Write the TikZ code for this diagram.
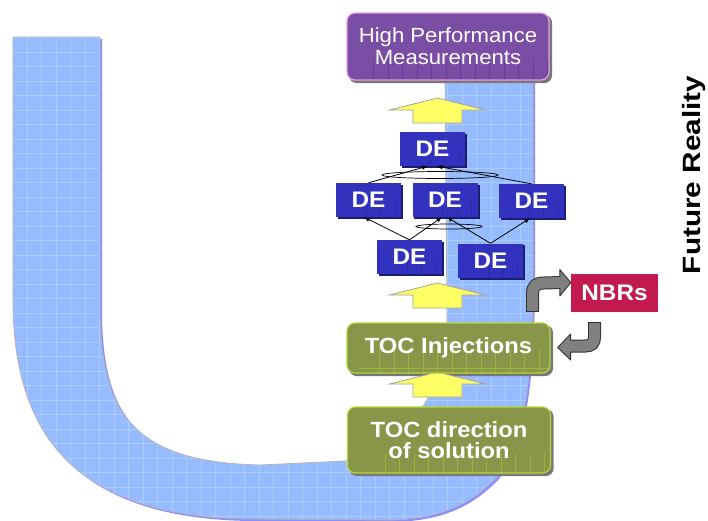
\documentclass[tikz,border=0pt]{standalone}
\usepackage{fontspec}
\setmainfont[FakeStretch=1.08]{Liberation Sans}
\usetikzlibrary{arrows.meta,shapes.geometric,calc}

\definecolor{ublue}{RGB}{151,187,255}
\definecolor{ugrid}{RGB}{170,205,255}
\definecolor{ushadow}{RGB}{140,140,250}
\definecolor{uedge}{RGB}{178,178,188}
\definecolor{hpmfill}{RGB}{122,78,164}
\definecolor{hpmgrid}{RGB}{106,56,160}
\definecolor{hpmedge}{RGB}{232,160,228}
\definecolor{deblue}{RGB}{50,50,190}
\definecolor{degrid}{RGB}{42,42,172}
\definecolor{deshade}{RGB}{28,28,112}
\definecolor{tocfill}{RGB}{135,150,72}
\definecolor{tocgrid}{RGB}{158,178,62}
\definecolor{tocedge}{RGB}{182,212,60}
\definecolor{nbrfill}{RGB}{194,26,78}
\definecolor{upfill}{RGB}{255,255,102}
\definecolor{upedge}{RGB}{160,160,160}
\definecolor{curvefill}{RGB}{128,128,128}
\definecolor{curveedge}{RGB}{50,50,50}
\definecolor{boxshade}{RGB}{120,120,120}

\pgfdeclarelayer{band}
\pgfdeclarelayer{shade}
\pgfsetlayers{band,shade,main}

% outline of the blue U band (pixel-like units, y pointing down)
\def\ushapepath{(13,37) -- (100,37) -- (100,315)
  .. controls (102,420) and (140,462) .. (260,465) -- (345,461)
  .. controls (420,440) and (446,380) .. (447,320) -- (445,70) -- (533,70)
  -- (533,270) .. controls (533,380) and (525,440) .. (497,477)
  .. controls (470,505) and (440,519) .. (390,520) -- (250,519)
  .. controls (80,517) and (13,440) .. (13,300) -- cycle}

\tikzset{
  boxgrid/.style={path picture={
    \begin{scope}[shift={(path picture bounding box.north west)}]
      \foreach \k in {1,...,15} {\draw[#1, line width=0.5pt] (14.5*\k,-5) -- (14.5*\k,90);}
      \foreach \k in {1,...,5} {\draw[#1, line width=0.5pt] (-5,14.5*\k) -- (240,14.5*\k);}
    \end{scope}}},
  hpmbox/.style={draw=hpmedge, line width=1.2pt, fill=hpmfill, rounded corners=8pt,
    text=white, align=center, minimum width=202pt, minimum height=67pt,
    font=\fontsize{20.5}{22}\selectfont, boxgrid=hpmgrid},
  debox/.style={fill=deblue, text=white, minimum width=65pt, minimum height=34pt,
    inner sep=0pt, font=\fontsize{22.5}{24}\selectfont\bfseries, boxgrid=degrid},
  tocbox/.style={draw=tocedge, line width=1.2pt, fill=tocfill, rounded corners=8pt,
    text=white, align=center, minimum width=203pt, inner sep=0pt,
    font=\fontsize{22}{21.5}\selectfont\bfseries, boxgrid=tocgrid},
  nbrbox/.style={fill=nbrfill, text=white, minimum width=87pt, minimum height=38pt,
    inner sep=0pt, font=\fontsize{22.5}{24}\selectfont\bfseries},
  andring/.style={ellipse, draw, line width=0.7pt, inner sep=0pt},
  link/.style={-{Latex[length=5.5pt,width=4.5pt]}, line width=0.8pt},
  uparrow/.pic={
    \draw[upedge, fill=upfill, line width=0.8pt, line join=miter]
      (0,0) -- (48,12) -- (24.5,12) -- (24.5,25) -- (-24.5,25) -- (-24.5,12) -- (-48,12) -- cycle;}
}

\begin{document}
\begin{tikzpicture}[x=1pt,y=-1pt]
\useasboundingbox (0,0) rectangle (708,520);

% blue U band with its grid texture
\begin{pgfonlayer}{band}
\fill[white] (0,0) rectangle (708,520);
\fill[ushadow, shift={(2,2)}] \ushapepath;
\fill[ublue] \ushapepath;
\begin{scope}
  \clip \ushapepath;
  \foreach \i in {0,...,37} {\draw[ugrid, line width=0.6pt] ({12.5+14.5*\i},30) -- ++(0,500);}
  \foreach \i in {0,...,33} {\draw[ugrid, line width=0.6pt] (0,{37.3+14.5*\i}) -- ++(560,0);}
\end{scope}
\draw[uedge, line width=0.8pt] \ushapepath;
\end{pgfonlayer}

% result at the top
\node[hpmbox] (hpm) at (448,46.5) {High Performance\\Measurements};

% yellow block arrows
\pic at (437.5,98) {uparrow};
\pic at (437.5,283) {uparrow};
\pic at (437.5,372) {uparrow};

% desirable effects
\node[debox] (de1) at (432.5,149) {DE};
\node[debox] (de2) at (368.5,200) {DE};
\node[debox] (de3) at (445,200) {DE};
\node[debox] (de4) at (531.5,201) {DE};
\node[debox] (de5) at (409.5,257) {DE};
\node[debox] (de6) at (490.5,260.5) {DE};

% logical AND rings and cause-effect links
\node[andring, minimum width=116pt, minimum height=7pt] (and1) at (440,175) {};
\node[andring, minimum width=66pt, minimum height=5pt] (and2) at (449,226.5) {};
\draw[link] (de2.north) -- ($(de1.south)+(-5,0)$);
\draw[link] (de4.north) -- ($(de1.south)+(4.5,0)$);
\draw[link] (de5.north) -- ($(de2.south)+(-4.5,0)$);
\draw[link] (de5.north) -- ($(de3.south)+(-3,0)$);
\draw[link] (de6.north) -- ($(de3.south)+(2,0)$);
\draw[link] (de6.north) -- ($(de4.south)+(-1.5,0)$);

% TOC boxes
\node[tocbox, minimum height=50pt] (inj) at (448.5,348) {TOC Injections};
\node[tocbox, minimum height=66pt] (dir) at (449,440) {TOC direction\\of solution};

% negative branch reservations
\node[nbrbox] (nbr) at (614.5,293) {NBRs};

% drop shadows under the boxes
\begin{pgfonlayer}{shade}
\foreach \n in {hpm,inj,dir}
  \fill[boxshade, rounded corners=8pt]
    ([shift={(2.5,2.5)}]\n.north west) rectangle ([shift={(2.5,2.5)}]\n.south east);
\foreach \n in {de1,de2,de3,de4,de5,de6}
  \fill[deshade] ([shift={(2,2)}]\n.north west) rectangle ([shift={(2,2)}]\n.south east);
\end{pgfonlayer}

% curved grey block arrows between the injections and the NBRs
\coordinate (upstart) at (532.5,311);
\coordinate (uptip) at ($(nbr.west)+(0,-10.5)$);
\draw[line width=13pt, curveedge] (upstart) -- (532.5,294)
  .. controls (532.5,286) and (536,283) .. (544,283) -- ($(uptip)+(-10,0)$);
\filldraw[fill=curvefill, draw=curveedge, line width=0.9pt, line join=round]
  ($(uptip)+(-11,-13)$) -- (uptip) -- ($(uptip)+(-11,13.5)$) -- cycle;
\draw[line width=11pt, curvefill] (upstart) -- (532.5,294)
  .. controls (532.5,286) and (536,283) .. (544,283) -- ($(uptip)+(-10,0)$);
\draw[curveedge, line width=0.9pt] ($(upstart)+(-6.5,0)$) -- ++(13,0);

\coordinate (dnstart) at (594.5,322);
\coordinate (dntip) at ($(inj.east)+(7,-0.5)$);
\draw[line width=13pt, curveedge] (dnstart) -- (594.5,337)
  .. controls (594.5,343) and (591.5,346) .. (585,346) -- ($(dntip)+(12,-1.5)$);
\filldraw[fill=curvefill, draw=curveedge, line width=0.9pt, line join=round]
  ($(dntip)+(13,-13.5)$) -- (dntip) -- ($(dntip)+(13,12.5)$) -- cycle;
\draw[line width=11pt, curvefill] (dnstart) -- (594.5,337)
  .. controls (594.5,343) and (591.5,346) .. (585,346) -- ($(dntip)+(12,-1.5)$);
\draw[curveedge, line width=0.9pt] ($(dnstart)+(-6.5,0)$) -- ++(13,0);

% side caption
\node[rotate=90, font=\fontsize{25}{27}\selectfont\bfseries] (fr) at (694,175)
  {\scalebox{1.1}[1]{Future Reality}};
\end{tikzpicture}
\end{document}
